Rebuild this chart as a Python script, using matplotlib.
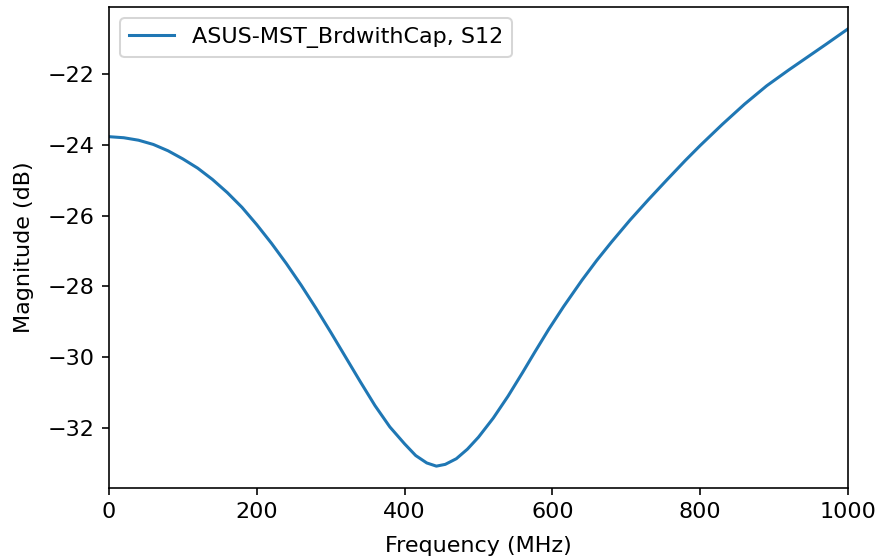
import matplotlib
matplotlib.use("Agg")
from matplotlib import pyplot as plt

# S12 magnitude
freq_mhz = [0, 20, 40, 60, 80, 100, 120, 140, 160, 180, 200, 220, 240, 260,
            280, 300, 320, 340, 360, 380, 400, 415, 430, 443, 455, 470, 485,
            500, 520, 540, 560, 576, 595, 615, 640, 660, 680, 705, 730, 755,
            780, 800, 830, 860, 890, 920, 945, 970, 1000]
mag_db = [-23.77, -23.80, -23.87, -23.99, -24.17, -24.40, -24.66, -24.98,
          -25.35, -25.77, -26.26, -26.79, -27.36, -27.97, -28.62, -29.30,
          -30.00, -30.70, -31.38, -31.98, -32.46, -32.79, -33.00, -33.09,
          -33.04, -32.88, -32.61, -32.27, -31.73, -31.11, -30.43, -29.87,
          -29.22, -28.58, -27.83, -27.27, -26.75, -26.13, -25.55, -24.99,
          -24.44, -24.02, -23.42, -22.85, -22.33, -21.88, -21.52, -21.16,
          -20.72]
label = 'ASUS-MST_BrdwithCap, S12'

plt.rcParams['font.size'] = 11

fig = plt.figure(figsize=(877 / 146, 559 / 146), dpi=146)
ax = fig.add_axes([109 / 877, 1 - 488 / 559, (848 - 109) / 877, (488 - 7) / 559])
ax.plot(freq_mhz, mag_db, color='#1f77b4', lw=1.5, label=label)
ax.set_xlim(0, 1000)
ax.set_xlabel('Frequency (MHz)', labelpad=7)
ax.set_ylabel('Magnitude (dB)', labelpad=7)
ax.legend(loc='upper left')

fig.savefig('out.png', dpi=146)
